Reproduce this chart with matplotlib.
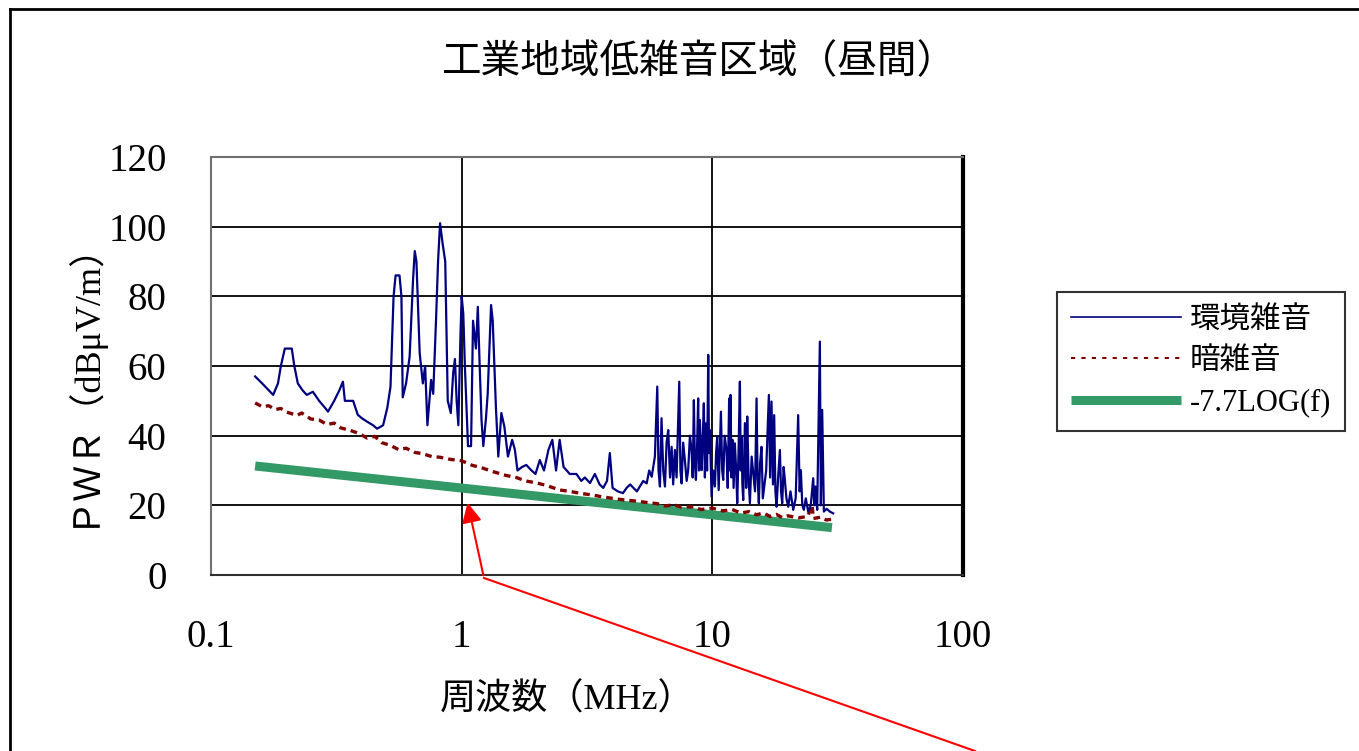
import matplotlib
matplotlib.use("Agg")
import matplotlib.pyplot as plt
from matplotlib.lines import Line2D
from matplotlib.patches import FancyArrowPatch
from matplotlib.ticker import NullLocator

# fonts: latin in a serif face, CJK falls back to Noto
SERIF_CJK = ['Liberation Serif', 'Noto Sans CJK JP']
plt.rcParams['font.family'] = SERIF_CJK

# ---- data ----
title = '工業地域低雑音区域（昼間）'
x_label = '周波数（MHz）'
y_label = 'ＰＷＲ（dBμV/m）'
series_names = ['環境雑音', '暗雑音', '-7.7LOG(f)']
x_ticks = [0.1, 1, 10, 100]
x_tick_labels = ['0.1', '1', '10', '100']
y_ticks = [0, 20, 40, 60, 80, 100, 120]

# 環境雑音 (ambient noise), 0.15 - 5 MHz
env_lo_freq = [
    0.150, 0.160, 0.170, 0.177, 0.185, 0.190, 0.197, 0.205, 0.210, 0.215,
    0.222, 0.232, 0.241, 0.255, 0.270, 0.285, 0.293, 0.310, 0.325, 0.336,
    0.342, 0.355, 0.369, 0.385, 0.400, 0.420, 0.443, 0.460, 0.486, 0.505,
    0.520, 0.535, 0.545, 0.565, 0.575, 0.582, 0.600, 0.620, 0.640, 0.650,
    0.660, 0.680, 0.700, 0.715, 0.730, 0.755, 0.770, 0.790, 0.805, 0.820,
    0.840, 0.860, 0.880, 0.905, 0.925, 0.940, 0.955, 0.970, 0.990, 1.000,
    1.015, 1.030, 1.060, 1.090, 1.110, 1.140, 1.160, 1.180, 1.200, 1.220,
    1.250, 1.270, 1.310, 1.330, 1.370, 1.400, 1.440, 1.480, 1.530, 1.590,
    1.630, 1.670, 1.740, 1.810, 1.900, 1.970, 2.050, 2.130, 2.220, 2.300,
    2.380, 2.460, 2.550, 2.700, 2.870, 3.000, 3.100, 3.250, 3.400, 3.550,
    3.670, 3.800, 3.900, 4.000, 4.200, 4.400, 4.550, 4.700, 5.000,
]
env_lo_level = [
    57.0, 55.0, 53.0, 51.7, 55.0, 60.0, 65.0, 65.0, 65.0, 60.0,
    55.0, 53.0, 51.7, 52.6, 50.0, 48.0, 46.9, 50.0, 53.0, 55.5,
    50.0, 50.0, 50.0, 46.0, 45.0, 44.0, 43.0, 42.0, 43.0, 48.0,
    54.0, 80.0, 86.0, 86.0, 80.0, 51.0, 55.0, 62.7, 85.0, 93.0,
    90.0, 63.7, 55.0, 60.0, 43.0, 56.0, 52.0, 73.0, 90.0, 101.0,
    95.0, 90.0, 50.0, 46.5, 58.0, 62.0, 50.0, 43.0, 70.0, 80.0,
    75.0, 60.0, 37.0, 37.0, 73.0, 65.0, 77.0, 60.0, 44.5, 37.0,
    45.0, 52.0, 77.5, 73.0, 48.0, 34.0, 46.5, 42.6, 34.0, 38.8,
    36.0, 30.0, 31.0, 31.6, 30.0, 29.0, 33.0, 30.0, 36.0, 38.8,
    30.0, 38.8, 31.0, 29.0, 29.0, 27.0, 28.0, 26.4, 29.0, 26.0,
    25.0, 27.0, 35.0, 25.0, 24.0, 23.5, 25.0, 26.0, 24.0,
]

# 環境雑音, 5 - 30 MHz (dense spikes)
env_hi_freq = [
    5.14, 5.30, 5.47, 5.60, 5.73, 5.90, 6.03, 6.10, 6.18, 6.27,
    6.37, 6.47, 6.57, 6.67, 6.78, 6.88, 6.98, 7.09, 7.20, 7.38,
    7.46, 7.54, 7.65, 7.77, 7.90, 8.01, 8.14, 8.26, 8.35, 8.44,
    8.52, 8.60, 8.70, 8.78, 8.85, 8.92, 9.06, 9.15, 9.25, 9.34,
    9.43, 9.53, 9.63, 9.70, 9.78, 9.93, 10.08, 10.24, 10.35, 10.46,
    10.60, 10.82, 10.95, 11.05, 11.20, 11.39, 11.52, 11.67, 11.75, 11.82,
    11.92, 12.04, 12.16, 12.30, 12.45, 12.57, 12.72, 12.88, 12.98, 13.08,
    13.18, 13.28, 13.40, 13.49, 13.65, 13.78, 13.95, 14.12, 14.35, 14.56,
    14.80, 15.01, 15.15, 15.33, 15.50, 15.71, 15.90, 16.05, 16.40, 16.81,
    17.00, 17.22, 17.45, 17.65, 17.85, 18.04, 18.30, 18.60, 18.80, 19.00,
    19.25, 19.47, 19.75, 20.08, 20.50, 21.02, 21.50, 22.00, 22.30, 22.55,
    22.85, 23.18, 23.60, 24.12, 24.70, 25.26, 25.50, 25.81, 26.20, 26.85,
    27.10, 27.43, 27.86, 28.60, 29.44, 30.35,
]
env_hi_level = [
    25.4, 27.0, 26.3, 30.0, 28.2, 34.0, 54.1, 30.0, 25.4, 45.0,
    30.0, 25.4, 38.0, 41.6, 28.0, 36.8, 26.0, 35.9, 28.0, 55.5,
    30.0, 26.3, 38.0, 33.0, 27.0, 30.1, 40.0, 35.9, 28.0, 50.2,
    32.0, 27.3, 38.0, 50.7, 30.0, 44.5, 30.1, 38.0, 49.3, 28.0,
    43.5, 30.0, 63.2, 35.0, 41.6, 22.5, 30.0, 25.4, 35.0, 39.7,
    24.4, 46.9, 30.0, 27.3, 40.0, 35.9, 25.0, 50.7, 30.0, 51.7,
    28.0, 38.8, 25.0, 37.8, 30.0, 20.6, 35.0, 55.5, 30.0, 39.7,
    26.0, 21.5, 35.0, 43.6, 25.0, 45.5, 28.0, 20.6, 34.0, 29.2,
    24.0, 50.7, 28.0, 20.6, 32.0, 36.8, 22.0, 24.4, 30.0, 51.7,
    28.0, 49.8, 26.0, 45.9, 24.0, 19.6, 28.0, 35.9, 24.0, 20.6,
    31.0, 27.3, 22.0, 19.6, 24.0, 18.7, 22.0, 45.9, 24.0, 30.1,
    20.0, 18.7, 22.0, 18.2, 20.0, 27.8, 20.0, 25.4, 18.7, 67.0,
    20.0, 47.4, 18.2, 19.0, 18.2, 17.7,
]

# 暗雑音 (background / receiver noise)
dark_freq = [
    0.15, 0.16, 0.17, 0.18, 0.19, 0.20, 0.22, 0.23, 0.25, 0.27,
    0.29, 0.31, 0.33, 0.36, 0.39, 0.42, 0.45, 0.48, 0.52, 0.56,
    0.60, 0.65, 0.70, 0.76, 0.82, 0.90, 1.00, 1.10, 1.20, 1.33,
    1.50, 1.65, 1.80, 2.00, 2.20, 2.46, 2.70, 3.00, 3.30, 3.60,
    4.00, 4.50, 5.00, 5.50, 6.00, 6.50, 7.00, 7.50, 8.40, 9.00,
    10.0, 11.0, 12.0, 13.0, 14.0, 15.0, 16.0, 17.0, 18.0, 19.0,
    20.0, 22.0, 24.0, 25.0, 25.3, 27.0, 28.5, 30.0,
]
dark_level = [
    49.4, 48.3, 48.6, 47.5, 47.8, 46.8, 45.8, 46.5, 44.8, 44.5,
    43.2, 43.6, 42.2, 41.5, 40.6, 39.3, 39.8, 38.0, 37.2, 36.0,
    36.4, 35.2, 34.8, 34.0, 33.8, 33.2, 32.8, 31.5, 30.8, 29.7,
    28.6, 28.0, 27.0, 26.4, 25.6, 24.4, 24.0, 23.4, 23.0, 22.5,
    22.0, 21.5, 21.2, 20.8, 20.5, 19.8, 20.2, 19.5, 19.6, 18.8,
    19.2, 18.4, 18.8, 17.8, 18.2, 17.3, 17.8, 16.8, 17.4, 16.5,
    17.0, 16.4, 16.8, 20.0, 16.2, 16.6, 15.8, 16.0,
]

# -7.7LOG(f) reference line, end points
fit_freq = [0.15, 30.0]
fit_level = [31.3, 13.6]

env_freq = env_lo_freq + env_hi_freq
env_level = env_lo_level + env_hi_level

# ---- figure ----
W, H = 1359, 751
fig = plt.figure(figsize=(W / 100, H / 100), dpi=100)

def px(x, y):
    # pixel position (from top-left) -> figure fraction
    return x / W, 1 - y / H

# outer chart frame (top and left edges visible)
fig.add_artist(Line2D([10 / W, 1], [1 - 9 / H, 1 - 9 / H], color='black', lw=2))
fig.add_artist(Line2D([10 / W, 10 / W], [0, 1 - 9 / H], color='black', lw=2))

ax = fig.add_axes([211 / W, 1 - 575 / H, 752 / W, 418 / H])
ax.set_xscale('log')
ax.set_xlim(0.1, 100)
ax.set_ylim(0, 120)

ax.plot(fit_freq, fit_level, color='#339966', lw=6.5, solid_capstyle='butt',
        label=series_names[2], zorder=2)
ax.plot(dark_freq, dark_level, color='#800000', lw=2.4, linestyle=(0, (2, 1.5)),
        label=series_names[1], zorder=3)
ax.plot(env_freq, env_level, color='#000080', lw=1.6, label=series_names[0], zorder=4)

ax.set_xticks(x_ticks)
ax.set_xticklabels(x_tick_labels)
ax.xaxis.set_minor_locator(NullLocator())
ax.set_yticks(y_ticks)
ax.tick_params(axis='both', length=0, labelsize=28, pad=32)
ax.grid(True, which='major', color='black', lw=1.3)
ax.set_axisbelow(True)

for side in ['top', 'left']:
    ax.spines[side].set_color('#707070')
    ax.spines[side].set_linewidth(1.5)
ax.spines['bottom'].set_color('#303030')
ax.spines['bottom'].set_linewidth(1.5)
ax.spines['right'].set_color('black')
ax.spines['right'].set_linewidth(3)

fig.text(*px(700, 62), title, ha='center', va='center', fontsize=28.5,
         family=['Noto Sans CJK JP'])
fig.text(*px(567, 700), x_label, ha='center', va='center', fontsize=26)
fig.text(*px(80, 374), y_label, ha='center', va='center', rotation=90, fontsize=26)

# legend
handles = [
    Line2D([], [], color='#000080', lw=1.2),
    Line2D([], [], color='#800000', lw=1.5, linestyle=(0, (2, 3))),
    Line2D([], [], color='#339966', lw=6.5, solid_capstyle='butt'),
]
leg = fig.legend(handles, series_names, loc='upper left',
                 bbox_to_anchor=px(1057, 292), bbox_transform=fig.transFigure,
                 fontsize=22, frameon=True, fancybox=False, edgecolor='black',
                 handlelength=3.6, handletextpad=0.3, labelspacing=0.4,
                 borderpad=0.45, borderaxespad=0)
leg.get_frame().set_linewidth(1.5)

# red pointer arrow
fig.add_artist(Line2D([975 / W, 484 / W], [1 - 751 / H, 1 - 578 / H],
                      color='red', lw=1.5))
fig.add_artist(FancyArrowPatch(px(484, 578), px(467, 500), transform=fig.transFigure,
                               arrowstyle='-|>', mutation_scale=30, color='red', lw=1.5))

fig.savefig('out.png', dpi=100)
